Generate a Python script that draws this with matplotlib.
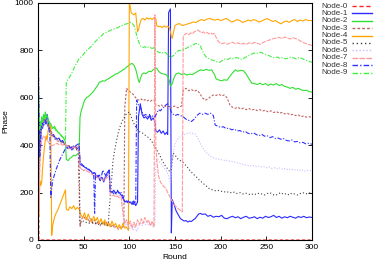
import matplotlib
matplotlib.use("Agg")
import matplotlib.pyplot as plt
from matplotlib.lines import Line2D

plt.rcParams['font.family'] = ['Liberation Sans', 'DejaVu Sans']

labels = ["Node-0", "Node-1", "Node-2", "Node-3", "Node-4",
          "Node-5", "Node-6", "Node-7", "Node-8", "Node-9"]
x_ticks = [0, 50, 100, 150, 200, 250, 300]
y_ticks = [0, 200, 400, 600, 800, 1000]

node0 = [(0, 1000), (1, 0), (300, 0)]

node1 = [(0,1000),(1,300),(2,480),(3,420),(4,510),(5,470),(6,500),(7,520),(8,490),(9,510),(10,530),(11,500),(12,480),(13,470),(14,455),(15,440),(17,445),(19,430),(21,425),(23,430),(25,415),(27,420),(29,405),(31,395),(33,385),(35,392),(37,380),(39,390),(41,395),(43,385),(45,400),(46,320),(48,315),(50,310),(52,305),(54,300),(56,295),(58,290),(60,280),(62,285),(64,265),(66,270),(68,250),(70,265),(72,245),(74,270),(76,285),(78,295),(79,205),(81,200),(83,210),(85,195),(87,205),(89,200),(91,190),(93,175),(95,160),(97,165),(99,155),(101,160),(103,150),(105,165),(107,145),(109,160),(110,520),(112,575),(114,530),(116,515),(118,520),(120,510),(122,525),(124,505),(126,515),(128,500),(129,460),(131,455),(133,465),(135,450),(137,460),(139,445),(141,455),(142,445),(143,960),(145,975),(146,30),(147,170),(149,150),(151,125),(153,110),(156,90),(158,85),(160,80),(162,82),(164,76),(166,80),(168,78),(170,85),(172,90),(174,100),(176,110),(178,112),(180,108),(183,110),(186,100),(189,104),(192,96),(195,100),(198,98),(201,104),(204,92),(207,90),(210,96),(213,100),(216,94),(219,98),(222,90),(225,96),(228,100),(231,92),(234,94),(237,98),(240,90),(243,96),(246,92),(249,100),(252,95),(255,98),(258,104),(261,95),(264,100),(267,92),(270,98),(273,94),(276,100),(279,96),(282,92),(285,99),(288,95),(291,100),(294,94),(297,97),(300,95)]

node2 = [(0,850),(1,420),(2,500),(3,460),(4,520),(5,490),(6,530),(7,510),(8,540),(9,520),(10,525),(12,500),(14,490),(16,470),(18,480),(20,465),(22,455),(24,448),(26,440),(28,430),(30,415),(31,340),(33,335),(35,345),(37,350),(39,358),(41,355),(43,362),(45,368),(46,518),(47,540),(49,565),(51,590),(53,600),(55,605),(57,612),(59,620),(61,628),(63,640),(65,650),(67,665),(69,668),(71,672),(73,670),(75,676),(77,680),(79,685),(81,690),(83,695),(85,700),(87,702),(89,708),(91,712),(93,718),(95,722),(97,730),(99,735),(101,742),(103,745),(105,738),(107,720),(109,690),(110,672),(111,665),(112,680),(114,700),(116,705),(118,702),(120,708),(122,712),(124,710),(126,718),(128,724),(130,725),(132,712),(134,705),(136,702),(138,700),(140,698),(142,690),(144,670),(145,648),(147,660),(149,685),(151,700),(154,705),(157,698),(160,702),(163,696),(166,700),(169,698),(172,705),(175,712),(178,718),(181,715),(184,720),(187,716),(190,718),(193,700),(195,680),(198,675),(201,672),(204,676),(207,674),(210,690),(213,705),(216,718),(219,712),(222,716),(225,714),(228,700),(231,680),(234,662),(237,660),(240,656),(243,662),(246,655),(249,660),(252,652),(255,658),(258,654),(261,660),(264,652),(267,656),(270,648),(273,645),(276,640),(279,644),(282,636),(285,640),(288,634),(291,630),(294,632),(297,626),(300,624)]

node3 = [(0,700),(1,250),(2,380),(3,450),(4,470),(5,490),(6,500),(8,510),(10,495),(12,480),(14,470),(16,440),(18,430),(20,420),(24,415),(28,410),(32,400),(36,395),(40,390),(44,385),(46,55),(48,90),(50,100),(52,85),(54,95),(56,75),(58,90),(60,70),(62,85),(64,65),(66,80),(68,60),(70,75),(72,65),(74,80),(76,60),(78,70),(80,55),(82,65),(84,50),(86,60),(88,45),(90,55),(92,50),(94,60),(95,560),(97,640),(99,630),(101,625),(103,620),(105,610),(107,600),(109,592),(111,590),(113,595),(115,588),(117,592),(119,586),(121,590),(123,585),(125,590),(127,592),(129,570),(131,568),(133,565),(135,570),(137,562),(139,566),(141,560),(143,565),(145,555),(147,560),(149,565),(151,562),(153,558),(155,560),(157,565),(159,632),(162,640),(165,630),(168,635),(171,628),(174,632),(177,620),(180,600),(183,590),(186,595),(189,605),(192,612),(195,610),(198,615),(201,608),(204,612),(207,600),(210,570),(213,560),(216,556),(219,560),(222,552),(225,556),(228,550),(231,555),(234,548),(237,552),(240,546),(243,550),(246,544),(249,548),(252,540),(255,545),(258,538),(261,542),(264,535),(267,538),(270,532),(273,535),(276,528),(279,530),(282,525),(285,528),(288,520),(291,524),(294,518),(297,520),(300,518)]

node4 = [(0,120),(1,100),(2,250),(3,230),(4,240),(5,300),(6,350),(7,390),(8,420),(9,440),(10,421),(11,460),(12,480),(13,492),(14,470),(15,20),(16,60),(18,95),(20,115),(22,130),(24,150),(26,170),(28,190),(30,212),(31,130),(33,125),(35,140),(37,132),(39,145),(41,128),(43,138),(45,130),(47,105),(49,95),(51,115),(53,85),(55,110),(57,90),(59,75),(61,100),(63,80),(65,95),(67,70),(69,90),(71,65),(73,85),(75,60),(77,75),(79,55),(81,80),(83,60),(85,70),(87,50),(89,65),(91,45),(93,70),(95,50),(97,55),(99,40),(100,1000),(101,985),(102,960),(103,955),(105,950),(107,958),(108,920),(109,880),(110,885),(111,905),(113,930),(115,935),(117,928),(119,938),(121,932),(123,936),(125,930),(127,938),(129,934),(130,905),(132,900),(134,902),(136,896),(138,904),(140,898),(142,902),(144,895),(146,860),(147,850),(148,870),(150,905),(152,910),(155,913),(158,905),(161,908),(164,912),(167,915),(170,920),(173,918),(176,925),(179,930),(182,926),(185,932),(188,935),(191,930),(194,928),(197,932),(200,926),(203,930),(206,935),(209,928),(212,920),(215,924),(218,930),(221,926),(224,918),(227,922),(230,928),(233,924),(236,930),(239,926),(242,920),(245,924),(248,930),(251,934),(254,928),(257,922),(260,926),(263,918),(266,912),(269,920),(272,924),(275,918),(278,926),(281,930),(284,922),(287,928),(290,924),(293,930),(296,926),(300,926)]

node5 = [(0,600),(1,350),(2,420),(3,470),(4,480),(6,495),(8,500),(10,490),(12,470),(14,455),(16,440),(20,430),(25,420),(30,400),(35,390),(40,385),(45,380),(46,70),(50,80),(55,70),(60,75),(65,65),(70,70),(75,60),(77,65),(78,130),(80,220),(82,330),(84,380),(86,420),(88,455),(90,480),(92,500),(94,515),(96,528),(98,535),(100,540),(102,520),(104,500),(106,485),(108,470),(110,460),(112,455),(115,450),(118,440),(121,432),(124,420),(127,400),(130,380),(133,360),(136,335),(139,315),(142,300),(144,290),(146,300),(148,366),(150,360),(152,345),(155,337),(158,330),(161,318),(164,305),(167,290),(170,278),(173,268),(176,255),(179,245),(182,235),(185,225),(188,215),(191,212),(194,208),(197,210),(200,205),(203,206),(206,200),(209,204),(212,198),(215,202),(218,196),(221,200),(224,194),(227,198),(230,195),(233,190),(236,196),(239,192),(242,198),(245,194),(248,190),(251,196),(254,200),(257,192),(260,188),(263,195),(266,200),(269,192),(272,196),(275,190),(278,198),(281,194),(284,190),(287,196),(290,200),(293,194),(296,198),(300,200)]

node6 = [(0,300),(1,150),(2,380),(3,440),(4,470),(6,490),(8,500),(10,485),(12,465),(14,450),(16,435),(20,420),(25,410),(30,395),(35,385),(40,380),(45,375),(46,300),(50,295),(55,290),(60,275),(65,265),(70,255),(75,270),(78,280),(79,200),(83,195),(87,190),(91,185),(94,80),(96,55),(98,70),(100,45),(102,65),(104,40),(106,60),(108,35),(110,55),(112,75),(114,60),(116,80),(118,65),(120,75),(122,60),(124,70),(126,55),(128,65),(129,330),(131,340),(133,330),(135,320),(137,310),(139,300),(141,290),(143,270),(145,240),(147,330),(149,390),(151,415),(154,430),(157,440),(160,445),(163,450),(166,452),(169,450),(172,448),(175,430),(178,405),(181,385),(184,370),(187,360),(190,350),(193,345),(196,342),(199,340),(202,338),(205,335),(208,336),(211,330),(214,332),(217,326),(220,324),(223,320),(226,318),(229,315),(232,312),(235,315),(238,310),(241,312),(244,308),(247,310),(250,305),(253,308),(256,302),(259,305),(262,300),(265,304),(268,298),(271,302),(274,296),(277,300),(280,294),(283,298),(286,292),(289,296),(292,290),(295,294),(300,292)]

node7 = [(0,450),(1,120),(2,300),(3,380),(4,420),(6,440),(8,430),(10,420),(12,410),(13,400),(15,398),(17,400),(19,405),(21,408),(23,402),(25,406),(27,400),(29,408),(31,395),(33,390),(35,385),(37,392),(39,388),(41,395),(43,390),(45,398),(46,305),(48,300),(50,292),(52,298),(54,290),(56,285),(58,282),(60,275),(62,270),(64,268),(66,260),(68,262),(70,255),(72,250),(74,258),(76,265),(78,270),(79,190),(81,185),(83,190),(85,180),(87,185),(89,178),(91,182),(93,113),(95,70),(97,85),(99,60),(101,80),(103,50),(105,75),(107,55),(109,85),(111,65),(113,90),(115,70),(117,95),(119,75),(121,85),(123,60),(125,80),(127,55),(128,950),(129,400),(130,337),(132,270),(134,245),(136,232),(138,225),(140,218),(142,200),(144,185),(146,170),(148,156),(150,145),(152,138),(154,130),(156,125),(158,118),(159,863),(161,868),(163,872),(165,866),(167,874),(169,870),(171,878),(173,882),(175,886),(177,880),(179,874),(181,878),(183,872),(185,876),(187,870),(189,874),(191,868),(193,872),(195,855),(197,840),(199,832),(201,828),(204,832),(207,826),(210,830),(213,835),(216,828),(219,832),(222,826),(225,830),(228,825),(231,832),(234,828),(237,834),(240,830),(243,826),(246,832),(249,838),(252,842),(255,846),(258,850),(261,852),(264,855),(267,850),(270,856),(273,852),(276,848),(279,854),(282,850),(285,845),(288,838),(291,832),(294,828),(297,824),(300,821)]

node8 = [(0,950),(1,600),(2,350),(3,450),(4,500),(6,480),(8,500),(10,490),(12,470),(13,440),(14,180),(16,250),(18,275),(20,300),(22,320),(24,340),(26,355),(28,370),(30,385),(32,390),(34,395),(36,388),(38,398),(40,392),(42,400),(44,405),(45,410),(46,330),(48,320),(50,312),(52,308),(54,300),(56,298),(58,290),(60,285),(61,280),(62,113),(63,280),(65,270),(67,274),(69,262),(71,295),(73,280),(75,265),(77,285),(78,295),(79,200),(81,205),(83,195),(85,200),(87,210),(89,195),(91,200),(93,185),(95,165),(97,160),(99,165),(101,155),(103,165),(105,150),(107,160),(108,590),(110,570),(112,560),(114,540),(116,525),(118,530),(120,520),(122,530),(124,515),(126,525),(128,520),(130,535),(132,550),(134,545),(136,555),(138,560),(140,570),(142,575),(144,560),(146,540),(148,530),(150,525),(153,530),(156,525),(159,520),(162,510),(165,505),(168,500),(171,510),(174,525),(177,535),(180,530),(183,535),(186,530),(189,535),(192,525),(194,485),(197,480),(200,475),(203,478),(206,470),(209,472),(212,465),(215,468),(218,460),(221,462),(224,455),(227,458),(230,450),(233,448),(236,452),(239,445),(242,440),(245,446),(248,438),(251,440),(254,432),(257,436),(260,428),(263,430),(266,425),(269,428),(272,420),(275,418),(278,422),(281,414),(284,416),(287,410),(290,412),(293,406),(296,408),(300,404)]

node9 = [(0,780),(1,550),(2,470),(3,500),(4,480),(5,510),(6,500),(8,520),(10,510),(12,495),(14,485),(16,470),(18,472),(20,460),(22,452),(24,445),(26,436),(28,428),(30,420),(31,665),(33,678),(35,690),(37,705),(39,722),(41,738),(43,752),(45,765),(47,772),(49,780),(51,790),(53,798),(55,806),(57,812),(59,820),(61,830),(63,838),(65,846),(67,854),(69,860),(71,868),(73,874),(75,876),(77,880),(79,884),(81,888),(83,890),(85,893),(87,895),(89,900),(91,904),(93,906),(95,910),(97,912),(99,914),(101,918),(103,916),(105,905),(107,880),(109,850),(111,828),(113,815),(115,812),(117,816),(119,810),(121,815),(123,812),(125,808),(127,812),(129,800),(131,795),(133,790),(135,793),(137,788),(139,792),(141,786),(143,780),(145,768),(147,775),(149,780),(151,790),(154,800),(157,798),(160,805),(163,810),(166,818),(169,820),(172,828),(175,830),(178,818),(181,790),(184,772),(187,765),(190,760),(193,756),(196,752),(199,750),(202,758),(205,765),(208,762),(211,768),(214,764),(217,770),(220,766),(223,762),(226,768),(229,775),(232,782),(235,786),(238,790),(241,788),(244,792),(247,786),(250,782),(253,778),(256,772),(259,768),(262,772),(265,766),(268,770),(271,764),(274,768),(277,772),(280,768),(283,764),(286,770),(289,766),(292,760),(295,756),(298,752),(300,750)]

series = [node0, node1, node2, node3, node4, node5, node6, node7, node8, node9]
styles = [
    dict(color='#ff2020', dashes=(3, 2)),
    dict(color='#2a2aff', linestyle='-'),
    dict(color='#30e030', linestyle='-'),
    dict(color='#c06060', dashes=(2, 1.5)),
    dict(color='#ffa500', linestyle='-'),
    dict(color='#404040', dashes=(1, 2)),
    dict(color='#d0b8ff', dashes=(1, 1.5)),
    dict(color='#ff9a9a', dashes=(4, 1)),
    dict(color='#3030ff', dashes=(4, 1.5, 1, 1.5)),
    dict(color='#40f040', dashes=(4, 1.5, 1, 1.5)),
]

fig = plt.figure(figsize=(3.74, 2.62), dpi=100)
ax = fig.add_axes([38/374, 1-240/262, (312-38)/374, (240-3)/262])

for data, st in zip(series, styles):
    xs = [p[0] for p in data]
    ys = [p[1] for p in data]
    ax.plot(xs, ys, lw=0.8, **st)

ax.set_xlim(0, 300)
ax.set_ylim(0, 1000)
ax.set_xticks(x_ticks)
ax.set_yticks(y_ticks)
ax.tick_params(direction='in', top=True, right=True, length=3, width=0.6,
               labelsize=6, pad=3)
for s in ax.spines.values():
    s.set_linewidth(0.8)
ax.set_xlabel("Round", fontsize=6, labelpad=2)
ax.set_ylabel("Phase", fontsize=6, labelpad=4)

# legend (outside right)
for i, (lab, st) in enumerate(zip(labels, styles)):
    yy = 1 - (6 + 7.4*i)/262
    fig.text(348/374, yy, lab, ha='right', va='center', fontsize=5.8, color='#333333')
    ln = Line2D([352/374, 372/374], [yy, yy], transform=fig.transFigure, lw=1.0, **st)
    fig.add_artist(ln)

fig.savefig("out.png", dpi=100)
